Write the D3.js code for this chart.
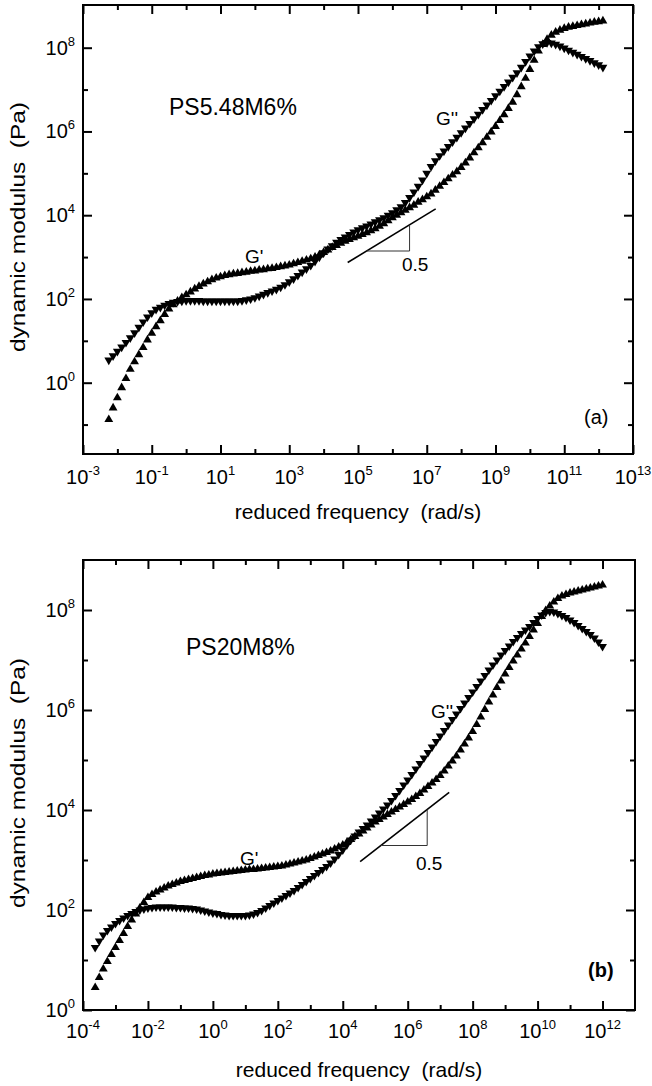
<!DOCTYPE html>
<html lang="en">
<head>
<meta charset="utf-8">
<title>Dynamic modulus master curves</title>
<script src="https://d3js.org/d3.v7.min.js"></script>
<style>
  body { margin: 0; background: #fff; }
  svg { display: block; font-family: "Liberation Sans", Arial, sans-serif; }
</style>
</head>
<body>
<div id="chart"></div>
<script>
// All values are log10: reduced frequency (rad/s) and modulus (Pa).

// panel (a) PS5.48M6%
var freqExpA = [-2.25,-2.125,-2,-1.875,-1.75,-1.625,-1.5,-1.375,-1.25,-1.125,-1,-0.875,-0.75,-0.625,-0.5,-0.375,-0.25,-0.125,
  0,0.125,0.25,0.375,0.5,0.625,0.75,0.875,1,1.125,1.25,1.375,1.5,1.625,1.75,1.875,2,2.125,2.25,2.375,2.5,2.625,2.75,2.875,
  3,3.125,3.25,3.375,3.5,3.625,3.75,3.875,4,4.125,4.25,4.375,4.5,4.625,4.75,4.875,5,5.125,5.25,5.375,5.5,5.625,5.75,5.875,
  6,6.125,6.25,6.375,6.5,6.625,6.75,6.875,7,7.125,7.25,7.375,7.5,7.625,7.75,7.875,8,8.125,8.25,8.375,8.5,8.625,8.75,8.875,
  9,9.125,9.25,9.375,9.5,9.625,9.75,9.875,10,10.125,10.25,10.375,10.5,10.625,10.75,10.875,11,11.125,11.25,11.375,11.5,11.625,11.75,11.875,
  12,12.125];
var gPrimeA = [-0.88,-0.6,-0.36,-0.12,0.1,0.32,0.5,0.67,0.84,1.02,1.18,1.34,1.48,1.63,1.76,1.86,1.95,2.03,
  2.1,2.17,2.24,2.3,2.36,2.41,2.46,2.5,2.53,2.56,2.58,2.6,2.61,2.63,2.64,2.66,2.67,2.69,2.7,2.72,2.73,2.75,2.77,2.79,
  2.81,2.84,2.87,2.9,2.93,2.96,3.0,3.05,3.11,3.17,3.23,3.28,3.33,3.38,3.42,3.46,3.5,3.54,3.58,3.63,3.68,3.74,3.8,3.87,
  3.94,4.0,4.06,4.12,4.18,4.24,4.31,4.37,4.44,4.51,4.6,4.69,4.78,4.87,4.96,5.04,5.14,5.25,5.37,5.49,5.61,5.73,5.86,5.99,
  6.12,6.26,6.4,6.55,6.7,6.88,7.07,7.27,7.48,7.7,7.92,8.08,8.2,8.3,8.37,8.42,8.46,8.49,8.51,8.53,8.55,8.57,8.59,8.61,
  8.62,8.64];
var gDoublePrimeA = [0.54,0.64,0.75,0.85,0.96,1.07,1.19,1.32,1.45,1.57,1.67,1.75,1.8,1.85,1.89,1.92,1.94,1.95,
  1.96,1.96,1.96,1.96,1.95,1.95,1.95,1.95,1.95,1.95,1.95,1.95,1.95,1.96,1.98,2.0,2.03,2.07,2.11,2.15,2.19,2.23,2.28,2.34,
  2.41,2.48,2.56,2.64,2.72,2.8,2.9,3.0,3.1,3.19,3.27,3.35,3.42,3.48,3.54,3.6,3.65,3.7,3.74,3.79,3.84,3.89,3.94,4.0,
  4.06,4.13,4.2,4.3,4.42,4.55,4.69,4.84,5.0,5.16,5.3,5.42,5.53,5.64,5.75,5.86,5.97,6.08,6.19,6.3,6.41,6.52,6.63,6.74,
  6.85,6.96,7.07,7.18,7.29,7.4,7.53,7.67,7.8,7.92,8.02,8.09,8.12,8.11,8.08,8.04,7.99,7.94,7.89,7.84,7.79,7.74,7.69,7.64,
  7.59,7.53];

// panel (b) PS20M8%
var freqExpB = [-3.625,-3.5,-3.375,-3.25,-3.125,-3,-2.875,-2.75,-2.625,-2.5,-2.375,-2.25,-2.125,-2,-1.875,-1.75,-1.625,-1.5,
  -1.375,-1.25,-1.125,-1,-0.875,-0.75,-0.625,-0.5,-0.375,-0.25,-0.125,0,
  0.125,0.25,0.375,0.5,0.625,0.75,0.875,1,1.125,1.25,1.375,1.5,1.625,1.75,1.875,2,2.125,2.25,2.375,2.5,2.625,2.75,2.875,
  3,3.125,3.25,3.375,3.5,3.625,3.75,3.875,4,4.125,4.25,4.375,4.5,4.625,4.75,4.875,5,5.125,5.25,5.375,5.5,5.625,5.75,5.875,
  6,6.125,6.25,6.375,6.5,6.625,6.75,6.875,7,7.125,7.25,7.375,7.5,7.625,7.75,7.875,8,8.125,8.25,8.375,8.5,8.625,8.75,8.875,
  9,9.125,9.25,9.375,9.5,9.625,9.75,9.875,10,10.125,10.25,10.375,10.5,10.625,10.75,10.875,11,11.125,11.25,11.375,11.5,11.625,11.75,11.875,
  12];
var gPrimeB = [0.45,0.65,0.82,0.97,1.11,1.25,1.39,1.53,1.67,1.8,1.92,2.04,2.15,2.25,2.31,2.36,2.4,2.44,
  2.48,2.51,2.54,2.57,2.59,2.61,2.63,2.65,2.67,2.69,2.7,2.72,
  2.73,2.74,2.75,2.76,2.77,2.78,2.79,2.8,2.81,2.81,2.82,2.83,2.84,2.85,2.86,2.87,2.88,2.9,2.92,2.94,2.96,2.98,3.0,
  3.03,3.06,3.09,3.12,3.15,3.18,3.22,3.26,3.3,3.35,3.41,3.47,3.52,3.58,3.64,3.7,3.76,3.81,3.86,3.91,3.96,4.01,4.06,4.11,
  4.16,4.21,4.27,4.33,4.4,4.47,4.54,4.61,4.69,4.78,4.88,4.98,5.08,5.2,5.32,5.44,5.57,5.71,5.86,6.01,6.16,6.3,6.45,6.58,
  6.72,6.85,6.98,7.1,7.22,7.34,7.47,7.6,7.73,7.87,7.99,8.08,8.16,8.23,8.28,8.31,8.34,8.36,8.38,8.4,8.42,8.44,8.46,8.48,
  8.5];
var gDoublePrimeB = [1.25,1.38,1.5,1.59,1.66,1.73,1.79,1.84,1.89,1.93,1.97,2.0,2.02,2.04,2.05,2.06,2.06,2.06,
  2.06,2.06,2.05,2.05,2.04,2.04,2.03,2.02,2.0,1.98,1.96,1.94,
  1.93,1.91,1.9,1.89,1.89,1.89,1.89,1.89,1.9,1.92,1.95,1.99,2.04,2.09,2.14,2.19,2.24,2.29,2.34,2.39,2.45,2.51,2.57,
  2.63,2.69,2.75,2.81,2.87,2.94,3.02,3.11,3.2,3.3,3.4,3.48,3.56,3.63,3.7,3.78,3.86,3.94,4.02,4.1,4.19,4.29,4.39,4.5,
  4.6,4.71,4.82,4.93,5.04,5.15,5.26,5.37,5.48,5.59,5.7,5.81,5.92,6.03,6.14,6.25,6.36,6.47,6.58,6.69,6.8,6.9,7.0,7.1,
  7.19,7.28,7.37,7.45,7.53,7.6,7.67,7.75,7.83,7.9,7.95,7.97,7.96,7.93,7.89,7.85,7.8,7.75,7.69,7.63,7.57,7.51,7.44,7.36,
  7.27];

// axis decades
var xMajorA = [-3,-1,1,3,5,7,9,11,13];
var xMinorA = [-2,0,2,4,6,8,10,12];
var yMajorA = [0,2,4,6,8];
var yMinorA = [-1,1,3,5,7];
var xMajorB = [-4,-2,0,2,4,6,8,10,12];
var xMinorB = [-3,-1,1,3,5,7,9,11];
var yMajorB = [0,2,4,6,8];
var yMinorB = [1,3,5,7];

// slope 0.5 guide: line ends and triangle corners [log freq, log modulus]
var slopeLineA = [[4.7,2.87],[7.26,4.15]];
var slopeTriA = [[5.25,3.145],[6.5,3.145],[6.5,3.77]];
var slopeLineB = [[4.535,2.966],[7.277,4.354]];
var slopeTriB = [[5.17,3.29],[6.6,3.29],[6.6,4.01]];

var panels = [
  { freq: freqExpA, g1: gPrimeA, g2: gDoublePrimeA,
    xDomain: [1e-3,1e13], xRange: [83,633], yDomain: [1,1e8], yRange: [382.7,47.7],
    top: 5, bottom: 454, xMajor: xMajorA, xMinor: xMinorA, yMajor: yMajorA, yMinor: yMinorA,
    slopeLine: slopeLineA, slopeTri: slopeTriA,
    tickLabelY: 484, titleY: 519, yTitleY: 227,
    name: "PS5.48M6%", nameXY: [169,115],
    gpXY: [245,263], gppXY: [436,125], halfXY: [402,271],
    tag: "(a)", tagXY: [584,424], tagBold: false },
  { freq: freqExpB, g1: gPrimeB, g2: gDoublePrimeB,
    xDomain: [1e-4,1e13], xRange: [83,635], yDomain: [1,1e9], yRange: [1010,560],
    top: 560, bottom: 1010, xMajor: xMajorB, xMinor: xMinorB, yMajor: yMajorB, yMinor: yMinorB,
    slopeLine: slopeLineB, slopeTri: slopeTriB,
    tickLabelY: 1038, titleY: 1077, yTitleY: 783,
    name: "PS20M8%", nameXY: [186,655],
    gpXY: [240,865], gppXY: [431,718], halfXY: [416,870],
    tag: "(b)", tagXY: [588,977], tagBold: true }
];

var svg = d3.select("#chart").append("svg")
  .attr("width", 652)
  .attr("height", 1086);

var pow = function(e) { return Math.pow(10, e); };
var upTri = d3.symbol().type(d3.symbolTriangle).size(34)();

panels.forEach(function(p) {
  if (p.freq.length !== p.g1.length || p.freq.length !== p.g2.length) {
    throw new Error("series length mismatch: " + p.freq.length + " " + p.g1.length + " " + p.g2.length);
  }

  var x = d3.scaleLog().domain(p.xDomain).range(p.xRange);
  var y = d3.scaleLog().domain(p.yDomain).range(p.yRange);
  var left = p.xRange[0], right = p.xRange[1];

  var g = svg.append("g");

  //ticks, all pointing inward
  function addTicks(axisFn, scale, vals, len, tx, ty) {
    g.append("g")
      .attr("transform", "translate(" + tx + "," + ty + ")")
      .call(axisFn(scale).tickValues(vals.map(pow)).tickSize(-len).tickFormat(""))
      .call(function(s) {
        s.select(".domain").remove();
        s.selectAll("line").attr("stroke-width", 2);
      });
  }
  addTicks(d3.axisBottom, x, p.xMajor, 9, 0, p.bottom);
  addTicks(d3.axisBottom, x, p.xMinor, 5, 0, p.bottom);
  addTicks(d3.axisTop, x, p.xMajor, 9, 0, p.top);
  addTicks(d3.axisTop, x, p.xMinor, 5, 0, p.top);
  addTicks(d3.axisLeft, y, p.yMajor, 9, left, 0);
  addTicks(d3.axisLeft, y, p.yMinor, 5, left, 0);
  addTicks(d3.axisRight, y, p.yMajor, 9, right, 0);
  addTicks(d3.axisRight, y, p.yMinor, 5, right, 0);

  //frame
  g.append("rect")
    .attr("x", left)
    .attr("y", p.top)
    .attr("width", right - left)
    .attr("height", p.bottom - p.top)
    .attr("fill", "none")
    .attr("stroke", "#000")
    .attr("stroke-width", 2);

  //tick labels: 10 with a superscript exponent
  p.xMajor.forEach(function(e) {
    var t = g.append("text")
      .attr("x", x(pow(e)))
      .attr("y", p.tickLabelY)
      .attr("text-anchor", "middle")
      .attr("font-size", 20);
    t.append("tspan").text("10");
    t.append("tspan").attr("dy", -9).attr("font-size", 13).text(e);
  });
  p.yMajor.forEach(function(e) {
    var t = g.append("text")
      .attr("x", 75)
      .attr("y", y(pow(e)) + 7)
      .attr("text-anchor", "end")
      .attr("font-size", 20);
    t.append("tspan").text("10");
    t.append("tspan").attr("dy", -9).attr("font-size", 13).text(e);
  });

  //axis titles
  g.append("text")
    .attr("x", (left + right) / 2)
    .attr("y", p.titleY)
    .attr("text-anchor", "middle")
    .attr("font-size", 21)
    .text("reduced frequency\u00a0\u00a0(rad/s)");
  g.append("text")
    .attr("transform", "translate(25," + p.yTitleY + ") rotate(-90)")
    .attr("text-anchor", "middle")
    .attr("font-size", 20)
    .attr("textLength", 250)
    .attr("lengthAdjust", "spacingAndGlyphs")
    .text("dynamic modulus\u00a0\u00a0(Pa)");

  //slope guide
  var line = d3.line()
    .x(function(d) { return x(pow(d[0])); })
    .y(function(d) { return y(pow(d[1])); });
  g.append("path")
    .attr("d", line(p.slopeLine))
    .attr("fill", "none")
    .attr("stroke", "#000")
    .attr("stroke-width", 1.6);
  g.append("path")
    .attr("d", line(p.slopeTri))
    .attr("fill", "none")
    .attr("stroke", "#333")
    .attr("stroke-width", 1);

  //G' up triangles, G'' down triangles
  g.selectAll(".gp")
    .data(d3.zip(p.freq, p.g1))
    .enter()
    .append("path")
    .attr("class", "gp")
    .attr("d", upTri)
    .attr("transform", function(d) {
      return "translate(" + x(pow(d[0])) + "," + y(pow(d[1])) + ")";
    });
  g.selectAll(".gpp")
    .data(d3.zip(p.freq, p.g2))
    .enter()
    .append("path")
    .attr("class", "gpp")
    .attr("d", upTri)
    .attr("transform", function(d) {
      return "translate(" + x(pow(d[0])) + "," + y(pow(d[1])) + ") rotate(180)";
    });

  //annotations
  g.append("text").attr("x", p.nameXY[0]).attr("y", p.nameXY[1]).attr("font-size", 23).text(p.name);
  g.append("text").attr("x", p.gpXY[0]).attr("y", p.gpXY[1]).attr("font-size", 19).text("G'");
  g.append("text").attr("x", p.gppXY[0]).attr("y", p.gppXY[1]).attr("font-size", 19).text("G''");
  g.append("text").attr("x", p.halfXY[0]).attr("y", p.halfXY[1]).attr("font-size", 19).text("0.5");
  g.append("text")
    .attr("x", p.tagXY[0])
    .attr("y", p.tagXY[1])
    .attr("font-size", 20)
    .attr("font-weight", p.tagBold ? "bold" : "normal")
    .text(p.tag);
});
</script>
</body>
</html>
